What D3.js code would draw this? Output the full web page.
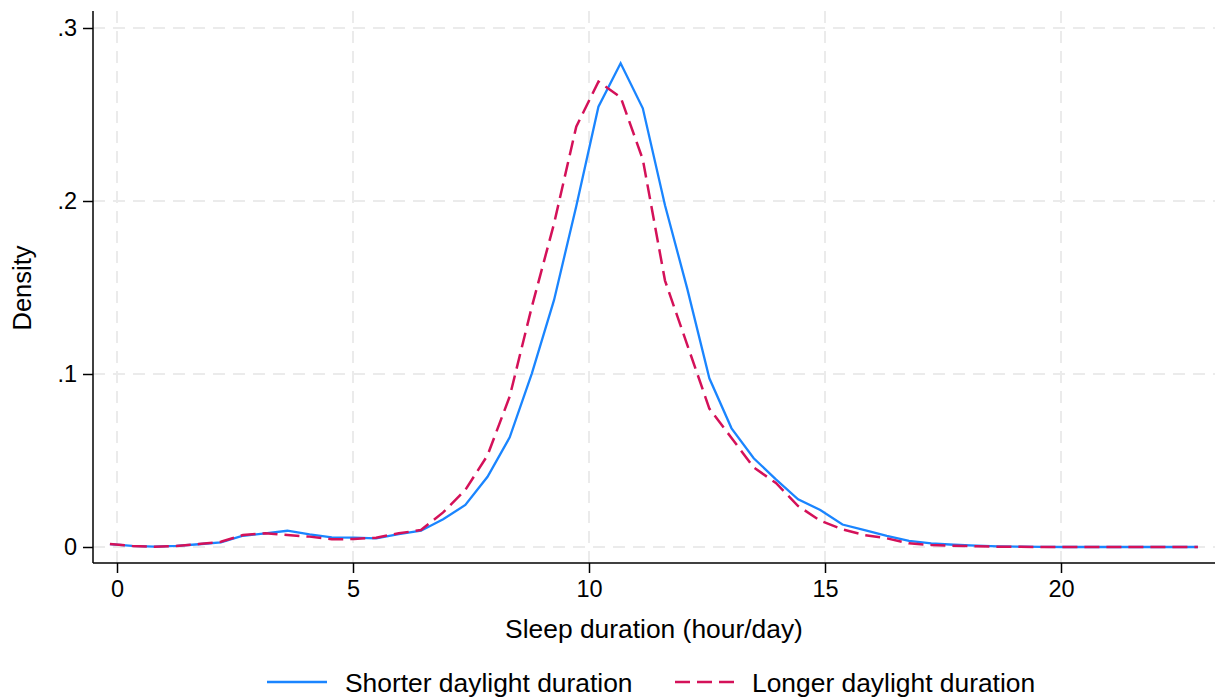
<!DOCTYPE html>
<html>
<head>
<meta charset="utf-8">
<script src="https://cdn.jsdelivr.net/npm/d3@7"></script>
<style>
  html, body { margin: 0; padding: 0; background: #fff; }
  svg { display: block; font-family: Arial, "Liberation Sans", Helvetica, sans-serif; }
</style>
</head>
<body>
<svg id="chart" width="1216" height="700"></svg>
<script>
// Evaluation points (hours/day)
const sleepHours = [-0.15, 0.32, 0.79, 1.26, 1.73, 2.20, 2.67, 3.14, 3.61, 4.08,
  4.55, 5.02, 5.49, 5.97, 6.44, 6.91, 7.38, 7.85, 8.32, 8.79,
  9.26, 9.73, 10.20, 10.67, 11.14, 11.61, 12.08, 12.55, 13.02, 13.49,
  13.96, 14.43, 14.90, 15.37, 15.84, 16.31, 16.78, 17.25, 17.73, 18.20,
  18.67, 19.14, 19.61, 20.08, 20.55, 21.02, 21.49, 21.96, 22.43, 22.90];

// Density, shorter daylight duration
const shorterDensity = [0.0017, 0.0006, 0.0002, 0.0006, 0.0016, 0.0027, 0.0065, 0.0079, 0.0094, 0.0073,
  0.0056, 0.0054, 0.0050, 0.0075, 0.0094, 0.0160, 0.0243, 0.0406, 0.0634, 0.1004,
  0.1428, 0.1970, 0.2545, 0.2796, 0.2536, 0.1975, 0.1495, 0.0975, 0.0686, 0.0513,
  0.0391, 0.0276, 0.0214, 0.0130, 0.0098, 0.0064, 0.0035, 0.0021, 0.0013, 0.0008,
  0.0004, 0.0002, 0.0001, 0.0000, 0.0000, 0.0000, 0.0000, 0.0000, 0.0000, 0.0000];

// Density, longer daylight duration
const longerDensity = [0.0017, 0.0006, 0.0002, 0.0006, 0.0017, 0.0030, 0.0069, 0.0080, 0.0069, 0.0060,
  0.0045, 0.0046, 0.0054, 0.0079, 0.0098, 0.0200, 0.0330, 0.0530, 0.0870, 0.1390,
  0.1870, 0.2430, 0.2690, 0.2600, 0.2240, 0.1540, 0.1170, 0.0800, 0.0630, 0.0460,
  0.0370, 0.0237, 0.0152, 0.0102, 0.0069, 0.0050, 0.0021, 0.0012, 0.0007, 0.0004,
  0.0002, 0.0001, 0.0000, 0.0000, 0.0000, 0.0000, 0.0000, 0.0000, 0.0000, 0.0000];

const xTicks = [0, 5, 10, 15, 20];
const yTicks = [0, 0.1, 0.2, 0.3];
const yTickLabels = ["0", ".1", ".2", ".3"];
const seriesNames = ["Shorter daylight duration", "Longer daylight duration"];
const seriesColors = ["#1A85FF", "#D41159"];

const svg = d3.select("#chart");

const axisLeftX = 93, axisBottomY = 563, plotTop = 11, plotRight = 1215;
const x = d3.scaleLinear().domain([0, 20]).range([117, 1061]);
const y = d3.scaleLinear().domain([0, 0.3]).range([547, 28]);

// grid
const grid = svg.append("g");
grid.selectAll("line.h").data(yTicks).enter().append("line")
  .attr("x1", axisLeftX).attr("x2", plotRight)
  .attr("y1", d => y(d)).attr("y2", d => y(d))
  .attr("stroke", "#ebebeb").attr("stroke-width", 2).attr("stroke-dasharray", "12,8");
grid.selectAll("line.v").data(xTicks).enter().append("line")
  .attr("x1", d => x(d)).attr("x2", d => x(d))
  .attr("y1", plotTop).attr("y2", axisBottomY)
  .attr("stroke", "#ebebeb").attr("stroke-width", 2).attr("stroke-dasharray", "12,8");

// axes
const yAxis = d3.axisLeft(y).tickValues(yTicks).tickSize(10).tickPadding(6)
  .tickFormat((d, i) => yTickLabels[i]);
const gy = svg.append("g").attr("transform", `translate(${axisLeftX},0)`).call(yAxis);
gy.select(".domain").remove();
gy.append("line").attr("x1", 0).attr("x2", 0).attr("y1", plotTop).attr("y2", axisBottomY)
  .attr("stroke", "#000").attr("stroke-width", 1.5);
gy.selectAll(".tick line").attr("stroke", "#000").attr("stroke-width", 1.5);
gy.selectAll(".tick text").attr("font-size", 23.5).attr("fill", "#000")
  .attr("font-family", "Arial, 'Liberation Sans', sans-serif");

const xAxis = d3.axisBottom(x).tickValues(xTicks).tickSize(10).tickPadding(7)
  .tickFormat(d3.format("d"));
const gx = svg.append("g").attr("transform", `translate(0,${axisBottomY})`).call(xAxis);
gx.select(".domain").remove();
gx.append("line").attr("x1", axisLeftX).attr("x2", plotRight).attr("y1", 0).attr("y2", 0)
  .attr("stroke", "#000").attr("stroke-width", 1.5);
gx.selectAll(".tick line").attr("stroke", "#000").attr("stroke-width", 1.5);
gx.selectAll(".tick text").attr("font-size", 23.5).attr("fill", "#000")
  .attr("font-family", "Arial, 'Liberation Sans', sans-serif");

// titles
svg.append("text").attr("x", 654).attr("y", 638).attr("text-anchor", "middle")
  .attr("font-size", 26.4).attr("fill", "#000").text("Sleep duration (hour/day)");
svg.append("text").attr("transform", "translate(31,288) rotate(-90)")
  .attr("text-anchor", "middle").attr("font-size", 25.5).attr("fill", "#000").text("Density");

// lines
const line = d3.line().x((d, i) => x(sleepHours[i])).y(d => y(d));
svg.append("path").datum(shorterDensity).attr("d", line)
  .attr("fill", "none").attr("stroke", seriesColors[0]).attr("stroke-width", 2.3)
  .attr("stroke-linejoin", "miter");
svg.append("path").datum(longerDensity).attr("d", line)
  .attr("fill", "none").attr("stroke", seriesColors[1]).attr("stroke-width", 2.5)
  .attr("stroke-dasharray", "15,7");

// legend
const legend = [
  { x1: 267, x2: 327, tx: 345, dash: null },
  { x1: 675, x2: 735, tx: 752, dash: "15,7" }
];
legend.forEach((l, i) => {
  svg.append("line").attr("x1", l.x1).attr("x2", l.x2).attr("y1", 682).attr("y2", 682)
    .attr("stroke", seriesColors[i]).attr("stroke-width", i ? 2.5 : 2.3)
    .attr("stroke-dasharray", l.dash);
  svg.append("text").attr("x", l.tx).attr("y", 692).attr("font-size", 26.4)
    .attr("fill", "#000").text(seriesNames[i]);
});
</script>
</body>
</html>
